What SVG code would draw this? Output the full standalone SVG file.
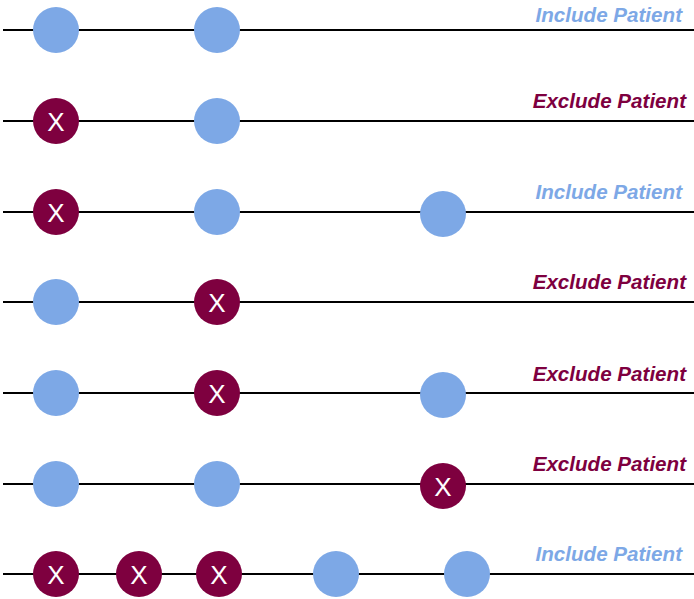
<svg xmlns="http://www.w3.org/2000/svg" width="694" height="599" viewBox="0 0 694 599">
<style>
.ln{stroke:#000;stroke-width:2;fill:none}
.inc{fill:#7DA8E6}
.exc{fill:#7E003F}
.x{fill:#fff;font-family:"Liberation Sans",Arial,sans-serif;font-size:26px;text-anchor:middle;dominant-baseline:central}
.li{font-family:"Liberation Sans",Arial,sans-serif;font-size:20.6px;font-weight:bold;font-style:italic;text-anchor:end}
.lblI{fill:#7DA8E6}
.lblE{fill:#7E003F}
</style>
<g id="connectors">
<line class="ln" x1="3" y1="30" x2="694" y2="30"/>
<line class="ln" x1="3" y1="121" x2="694" y2="121"/>
<line class="ln" x1="3" y1="212" x2="694" y2="212"/>
<line class="ln" x1="3" y1="302" x2="694" y2="302"/>
<line class="ln" x1="3" y1="393" x2="694" y2="393"/>
<line class="ln" x1="3" y1="484" x2="694" y2="484"/>
<line class="ln" x1="3" y1="574" x2="694" y2="574"/>
</g>
<g id="row1">
<circle class="inc" cx="56" cy="30" r="23"/>
<circle class="inc" cx="217" cy="30" r="23"/>
<text class="li lblI" x="682" y="22">Include Patient</text>
</g>
<g id="row2">
<circle class="exc" cx="56" cy="121" r="23"/><text class="x" x="56" y="122">X</text>
<circle class="inc" cx="217" cy="121" r="23"/>
<text class="li lblE" x="686" y="108">Exclude Patient</text>
</g>
<g id="row3">
<circle class="exc" cx="56" cy="212" r="23"/><text class="x" x="56" y="213">X</text>
<circle class="inc" cx="217" cy="212" r="23"/>
<circle class="inc" cx="443" cy="214" r="23"/>
<text class="li lblI" x="682" y="199">Include Patient</text>
</g>
<g id="row4">
<circle class="inc" cx="56" cy="302" r="23"/>
<circle class="exc" cx="217" cy="302" r="23"/><text class="x" x="217" y="303">X</text>
<text class="li lblE" x="686" y="289">Exclude Patient</text>
</g>
<g id="row5">
<circle class="inc" cx="56" cy="393" r="23"/>
<circle class="exc" cx="217" cy="393" r="23"/><text class="x" x="217" y="394">X</text>
<circle class="inc" cx="443" cy="395" r="23"/>
<text class="li lblE" x="686" y="381">Exclude Patient</text>
</g>
<g id="row6">
<circle class="inc" cx="56" cy="484" r="23"/>
<circle class="inc" cx="217" cy="484" r="23"/>
<circle class="exc" cx="443" cy="486" r="23"/><text class="x" x="443" y="487">X</text>
<text class="li lblE" x="686" y="471">Exclude Patient</text>
</g>
<g id="row7">
<circle class="exc" cx="56" cy="574" r="23"/><text class="x" x="56" y="575">X</text>
<circle class="exc" cx="139" cy="574" r="23"/><text class="x" x="139" y="575">X</text>
<circle class="exc" cx="219" cy="574" r="23"/><text class="x" x="219" y="575">X</text>
<circle class="inc" cx="336" cy="574" r="23"/>
<circle class="inc" cx="467" cy="574" r="23"/>
<text class="li lblI" x="682" y="561">Include Patient</text>
</g>
</svg>
